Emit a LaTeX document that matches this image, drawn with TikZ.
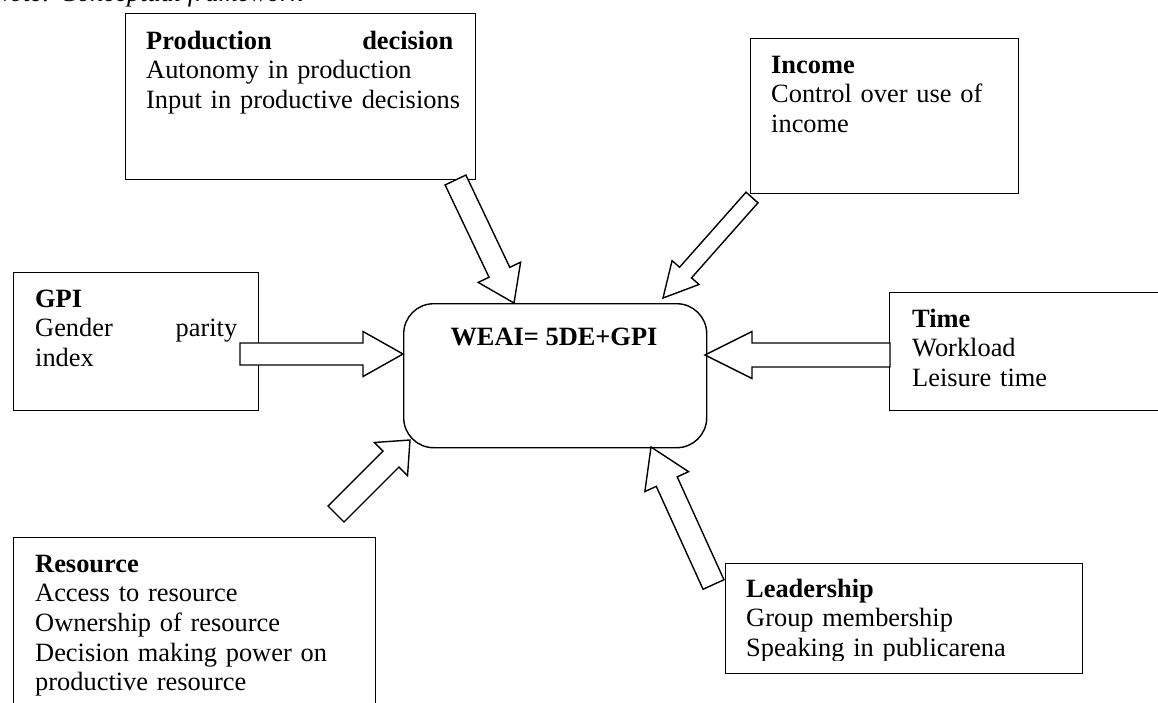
\documentclass[tikz,border=0pt]{standalone}
\usepackage{fontspec}
\setmainfont{Liberation Serif}
\usetikzlibrary{calc}
\tikzset{
  box/.style={draw, line width=1.4pt, inner sep=0pt, anchor=north west},
  txt/.style={inner sep=0pt, anchor=base west, align=left, text width=420pt, font=\fontsize{26.4}{29.7}\selectfont},
  barrow/.style={draw, fill=white, line width=1.4pt, line join=miter},
}
% #1 name, #2 tail, #3 tip, #4 shaft half width, #5 head half width, #6 head length
\newcommand{\blockarrow}[6]{%
  \coordinate (#1H) at ($(#3)!#6!(#2)$);
  \draw[barrow] ($(#2)!#4!90:(#3)$) -- ($(#1H)!#4!90:(#3)$) -- ($(#1H)!#5!90:(#3)$) -- (#3)
     -- ($(#1H)!#5!-90:(#3)$) -- ($(#1H)!#4!-90:(#3)$) -- ($(#2)!#4!-90:(#3)$) -- cycle;
}
\begin{document}
\begin{tikzpicture}[x=1pt, y=-1pt]
\useasboundingbox (0,0) rectangle (1158,702);

% caption (cut off at the top of the page, as in the reference)
\node[inner sep=0pt, anchor=base west, font=\fontsize{26.4}{29.7}\selectfont\itshape] (cap) at (-8,1) {Note: Conceptual framework};

% boxes
\node[box, minimum width=350pt, minimum height=166pt] (prod) at (125,13) {};
\node[box, minimum width=268pt, minimum height=155pt] (inc) at (750,38) {};
\node[box, minimum width=245pt, minimum height=138pt] (gpi) at (13,272) {};
\node[box, minimum width=275pt, minimum height=118pt] (time) at (889,292) {};
\node[box, minimum width=362pt, minimum height=190pt] (res) at (13,537) {};
\node[box, minimum width=357pt, minimum height=110pt] (lead) at (725,563) {};
\node[box, rounded corners=30pt, minimum width=303pt, minimum height=144pt] (weai) at (403,303) {};

% texts
\node[txt] (prodt) at (146,49) {\makebox[307pt]{\textbf{Production}\hfill\textbf{decision}}\\Autonomy in production\\Input in productive decisions};
\node[txt] (inct) at (771,73) {\textbf{Income}\\\makebox[227pt][s]{Control over use of}\\income};
\node[txt] (gpit) at (35,307) {\textbf{GPI}\\\makebox[202pt]{Gender\hfill parity}\\index};
\node[txt] (timet) at (912,327) {\textbf{Time}\\Workload\\Leisure time};
\node[txt] (rest) at (35,572) {\textbf{Resource}\\Access to resource\\Ownership of resource\\\makebox[310pt][s]{Decision making power on}\\productive resource};
\begin{scope}
  \clip (725,563) rectangle (1082,660.5);
  \node[txt] (leadt) at (746,597) {\textbf{Leadership}\\Group membership\\Speaking in publicarena};
\end{scope}
\node[inner sep=0pt, font=\fontsize{26.4}{29.7}\selectfont\bfseries, anchor=base] (weait) at (554,345) {WEAI= 5DE+GPI};

% arrows
\coordinate (gpiT) at (240,354);   \coordinate (gpiP) at (403,354);
\coordinate (timeT) at (890,355);  \coordinate (timeP) at (705,355);
\coordinate (prodT) at (455.5,180);\coordinate (prodP) at (514,303);
\coordinate (incT) at (752,197.5); \coordinate (incP) at (663,298);
\coordinate (resT) at (336,514);   \coordinate (resP) at (410,440);
\coordinate (leadT) at (713.5,584.5); \coordinate (leadP) at (651,447);

\blockarrow{agpi}{gpiT}{gpiP}{11pt}{22.5pt}{40pt}
\blockarrow{atime}{timeT}{timeP}{12pt}{23.5pt}{47pt}
\blockarrow{aprod}{prodT}{prodP}{11.5pt}{23.5pt}{34pt}
\blockarrow{ainc}{incT}{incP}{8pt}{18pt}{34pt}
\blockarrow{ares}{resT}{resP}{11.3pt}{23.5pt}{27pt}
\blockarrow{alead}{leadT}{leadP}{11.5pt}{24pt}{38pt}
\end{tikzpicture}
\end{document}
